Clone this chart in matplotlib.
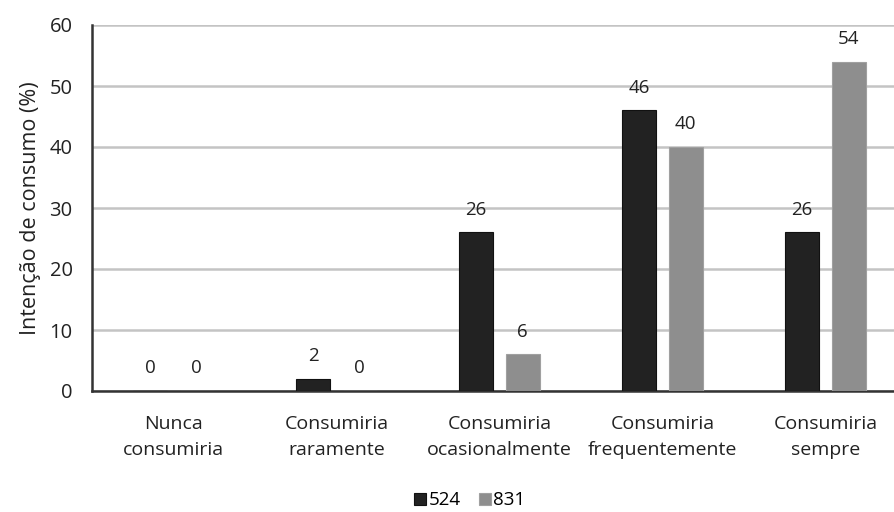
import numpy as np
import matplotlib
matplotlib.use("Agg")
import matplotlib.pyplot as plt

# Intenção de consumo por grupo
categorias = ["Nunca\nconsumiria", "Consumiria\nraramente", "Consumiria\nocasionalmente",
              "Consumiria\nfrequentemente", "Consumiria\nsempre"]
grupo_524 = [0, 2, 26, 46, 26]
grupo_831 = [0, 0, 6, 40, 54]
series = ["524", "831"]

plt.rcParams["font.family"] = ["Open Sans", "DejaVu Sans"]

fig = plt.figure(figsize=(8.94, 5.12), dpi=100)
ax = fig.add_axes([92 / 894, 1 - 391 / 512, 1 - 92 / 894, (391 - 25) / 512])

x = np.arange(len(categorias))
w = 0.21
off = 0.143
b1 = ax.bar(x - off, grupo_524, w, color="#222222", edgecolor="#111111", linewidth=0.8,
            label=series[0], zorder=3)
b2 = ax.bar(x + off, grupo_831, w, color="#8e8e8e", edgecolor="#a0a0a0", linewidth=0.8,
            label=series[1], zorder=3)

for bars, vals in ((b1, grupo_524), (b2, grupo_831)):
    for b, v in zip(bars, vals):
        ax.annotate(str(v), (b.get_x() + b.get_width() / 2, v), xytext=(0, 10),
                    textcoords="offset points", ha="center", va="bottom",
                    fontsize=13.5, color="#222222")

ax.set_ylim(0, 60)
ax.set_yticks(range(0, 61, 10))
ax.set_xlim(-0.5, (894 - 92) / 163 - 0.5)
ax.set_xticks(x)
ax.set_xticklabels(categorias, fontsize=14, color="#222222", linespacing=1.6)
ax.tick_params(axis="x", length=0, pad=17, colors="#222222")
ax.tick_params(axis="y", length=0, pad=14, labelsize=14.5, colors="#222222")
ax.yaxis.grid(True, color="#c4c4c4", linewidth=1.8, zorder=0)
ax.set_axisbelow(True)
for s in ("top", "right"):
    ax.spines[s].set_visible(False)
ax.spines["left"].set_color("#333333")
ax.spines["bottom"].set_color("#333333")
ax.spines["left"].set_linewidth(1.8)
ax.spines["bottom"].set_linewidth(1.8)
ax.set_ylabel("Intenção de consumo (%)", fontsize=15.5, color="#222222", labelpad=6)

fig.legend(handles=[b1, b2], labels=series, loc="lower center", bbox_to_anchor=(470 / 894, -0.028),
           ncol=2, frameon=False, fontsize=13.5, handlelength=0.6, handleheight=0.6,
           handletextpad=0.15, columnspacing=1.0)

fig.savefig("out.png", dpi=100)
